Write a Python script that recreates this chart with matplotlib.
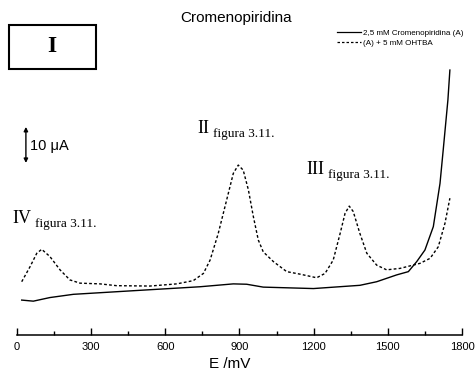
import matplotlib
matplotlib.use("Agg")
import matplotlib.pyplot as plt
from matplotlib.lines import Line2D
from matplotlib.patches import Rectangle
from matplotlib.ticker import MultipleLocator

# potencial (mV) y corriente (uA)
e_a = [19, 66, 133, 228, 470, 740, 875, 929, 996, 1199, 1387, 1455, 1536,
       1583, 1617, 1650, 1684, 1711, 1724, 1743, 1751]
i_a = [9.7, 9.4, 10.4, 11.3, 12.3, 13.4, 14.2, 14.1, 13.3, 12.9, 13.8, 14.8,
       16.7, 17.6, 20.4, 23.6, 30.1, 42.1, 51.4, 65.3, 73.6]

e_b = [19, 53, 80, 100, 133, 174, 214, 255, 336, 403, 538, 646, 713, 754, 781,
       814, 848, 875, 895, 915, 936, 956, 976, 996, 1037, 1091, 1145, 1212,
       1246, 1279, 1307, 1327, 1344, 1360, 1387, 1415, 1455, 1495, 1549, 1590,
       1630, 1671, 1704, 1731, 1751]
i_b = [14.8, 19.0, 22.7, 23.8, 21.8, 18.1, 15.3, 14.4, 14.2, 13.7, 13.6, 14.2,
       15.1, 17.1, 20.8, 28.2, 37.5, 44.9, 47.2, 45.8, 40.3, 32.9, 26.4, 23.1,
       20.4, 17.6, 16.9, 15.9, 17.1, 20.8, 28.2, 33.8, 35.8, 34.3, 28.2, 22.7,
       19.4, 18.1, 18.5, 19.2, 19.9, 21.3, 24.5, 31.0, 38.0]

labels = ["2,5 mM Cromenopiridina (A)", "(A) + 5 mM OHTBA"]
x_ticks = [0, 300, 600, 900, 1200, 1500, 1800]

W, H = 477, 370


def px(x, y):
    """pixeles (desde arriba a la izquierda) -> fraccion de figura"""
    return x / W, 1 - y / H


fig = plt.figure(figsize=(W / 100, H / 100), dpi=100)
ax = fig.add_axes([17 / W, 35 / H, 445 / W, 315 / H])

dash = (0, (2.0, 1.6))
ax.plot(e_a, i_a, color="black", linewidth=1.0)
ax.plot(e_b, i_b, color="black", linewidth=1.0, linestyle=dash)

ax.set_xlim(0, 1800)
ax.set_ylim(0, 87.5)
for s in ("left", "top", "right"):
    ax.spines[s].set_visible(False)
ax.spines["bottom"].set_linewidth(1.1)
ax.set_yticks([])
ax.set_xticks(x_ticks)
ax.xaxis.set_minor_locator(MultipleLocator(150))
ax.tick_params(axis="x", which="major", direction="in", length=5, width=1.0,
               pad=5, labelsize=8)
ax.tick_params(axis="x", which="minor", direction="in", length=3, width=1.0)
for lab in ax.get_xticklabels():
    lab.set_family("Liberation Sans")
fig.text(*px(230, 368), "E /mV", family="Liberation Sans", fontsize=11,
         ha="center", va="baseline")

fig.text(*px(236, 18), "Cromenopiridina", family="Liberation Sans",
         fontsize=11, ha="center", va="center")

# recuadro "I"
fig.patches.append(Rectangle(px(9, 69), 87 / W, 44 / H, transform=fig.transFigure,
                             fill=False, edgecolor="black", linewidth=1.5))
fig.text(*px(52, 47), "I", family="Liberation Serif", fontweight="bold",
         fontsize=17, ha="center", va="center")

# leyenda
handles = [Line2D([], [], color="black", linewidth=0.9),
           Line2D([], [], color="black", linewidth=0.9, linestyle=dash)]
ax.legend(handles, labels, loc="upper left", bbox_to_anchor=px(337, 29),
          bbox_transform=fig.transFigure, frameon=False,
          prop={"family": "Liberation Sans", "size": 5.8},
          handlelength=3.0, handletextpad=0.2, labelspacing=0.35, borderpad=0,
          borderaxespad=0)

# escala de corriente
ax.annotate("", xy=(36, 47.8), xytext=(36, 57.8),
            arrowprops=dict(arrowstyle="<|-|>", color="black", lw=1.0,
                            mutation_scale=6, shrinkA=0, shrinkB=0))
fig.text(*px(30, 150), "10 μA", family="Liberation Sans", fontsize=10.5,
         ha="left", va="baseline")

# etiquetas de picos
for big, x0, y0, x1 in [("II", 197, 133, 213), ("III", 306, 174, 328),
                        ("IV", 12, 223, 35)]:
    fig.text(*px(x0, y0), big, family="Liberation Serif", fontsize=13,
             ha="left", va="baseline")
    fig.text(*px(x1, y0 + 4), "figura 3.11.", family="Liberation Serif",
             fontsize=9.5, ha="left", va="baseline")

fig.savefig("out.png", dpi=100)
